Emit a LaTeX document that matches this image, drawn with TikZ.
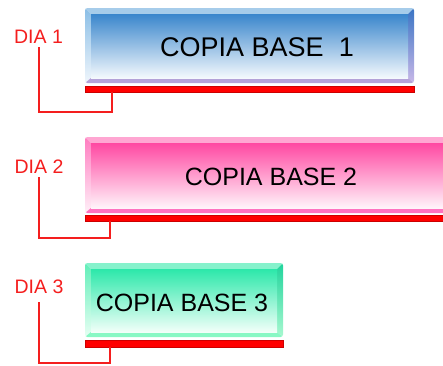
\documentclass[tikz,border=0pt]{standalone}
\usepackage{fontspec}
\setmainfont{Liberation Sans}
\begin{document}
% colour sets for the three bevelled boxes
\definecolor{aFaceT}{HTML}{3A86CC}\definecolor{aFaceB}{HTML}{F4F9FD}
\definecolor{aTop}{HTML}{A6CCEA}
\definecolor{aLeftT}{HTML}{8ABEE6}\definecolor{aLeftB}{HTML}{F0F6FC}
\definecolor{aRightT}{HTML}{3A74C4}\definecolor{aRightB}{HTML}{C8B8E8}
\definecolor{aBot}{HTML}{B4A2D8}
\definecolor{bFaceT}{HTML}{FF48A2}\definecolor{bFaceB}{HTML}{FFF4FA}
\definecolor{bTop}{HTML}{FFA6D2}
\definecolor{bLeftT}{HTML}{FF7CC0}\definecolor{bLeftB}{HTML}{FFF0F8}
\definecolor{bRightT}{HTML}{FF3C98}\definecolor{bRightB}{HTML}{FF9ACC}
\definecolor{bBot}{HTML}{FF72C0}
\definecolor{cFaceT}{HTML}{2CE8AA}\definecolor{cFaceB}{HTML}{F2FFF9}
\definecolor{cTop}{HTML}{86F2CC}
\definecolor{cLeftT}{HTML}{60EEB8}\definecolor{cLeftB}{HTML}{E8FFF4}
\definecolor{cRightT}{HTML}{20D49C}\definecolor{cRightB}{HTML}{A8F8D0}
\definecolor{cBot}{HTML}{88F8C4}
\definecolor{barred}{HTML}{FF0000}
\definecolor{labred}{HTML}{F41E1E}
% bevelled box: #1 x1, #2 y1 (top), #3 x2, #4 y2 (bottom), #5 colour prefix
\newcommand\bevbox[5]{%
  \begin{scope}
    \clip[rounded corners=2.5pt] (#1,#2) rectangle (#3,#4);
    \fill[#5Top] (#1,#2) -- (#3,#2) -- (#3-6,#2-6) -- (#1+6,#2-6) -- cycle;
    \shade[top color=#5LeftT, bottom color=#5LeftB]
      (#1,#2) -- (#1+6,#2-6) -- (#1+6,#4+5) -- (#1,#4) -- cycle;
    \shade[top color=#5RightT, bottom color=#5RightB]
      (#3,#2) -- (#3-6,#2-6) -- (#3-6,#4+5) -- (#3,#4) -- cycle;
    \fill[#5Bot] (#1,#4) -- (#1+6,#4+5) -- (#3-6,#4+5) -- (#3,#4) -- cycle;
    \shade[top color=#5FaceT, bottom color=#5FaceB]
      (#1+6,#2-6) rectangle (#3-6,#4+5);
  \end{scope}}
\begin{tikzpicture}[x=1pt, y=1pt,
  redbar/.style={fill=barred, draw=barred!80!black, line width=0.3pt,
    inner sep=0pt, minimum height=6pt, anchor=north west},
  boxtext/.style={inner sep=0pt, anchor=base, text=black},
  daylabel/.style={inner sep=0pt, anchor=base, text=labred,
    font=\fontsize{19.5}{20}\selectfont},
  bracket/.style={draw=labred, line width=2pt}]
  \useasboundingbox (0,0) rectangle (443,-365);
  \clip (0,0) rectangle (443,-365);

  % three bevelled copy boxes
  \bevbox{85}{-8}{414}{-83}{a}
  \bevbox{85}{-137}{470}{-213}{b}
  \bevbox{85}{-263}{283}{-337}{c}

  \node[boxtext, font=\fontsize{27}{28}\selectfont] (t1) at (257,-56) {COPIA BASE\ \ 1};
  \node[boxtext, font=\fontsize{25}{26}\selectfont] (t2) at (271,-185) {COPIA BASE 2};
  \node[boxtext, font=\fontsize{25}{26}\selectfont] (t3) at (182,-311) {COPIA BASE 3};

  % red base bars
  \node[redbar, minimum width=329pt] (bar1) at (85,-86) {};
  \node[redbar, minimum width=385pt] (bar2) at (85,-215) {};
  \node[redbar, minimum width=198pt, minimum height=7pt] (bar3) at (85,-340) {};

  % day labels
  \node[daylabel] (dia1) at (38.5,-43) {DIA 1};
  \node[daylabel] (dia2) at (39,-173) {DIA 2};
  \node[daylabel] (dia3) at (39,-293) {DIA 3};

  % bracket corners
  \coordinate (k1) at (112,-112);
  \coordinate (k2) at (110,-238);
  \coordinate (k3) at (110,-363);

  % brackets from each label to its bar
  \draw[bracket] ([yshift=-4pt]dia1.south) |- (k1) -- (k1 |- bar1.south);
  \draw[bracket] ([yshift=-4pt]dia2.south) |- (k2) -- (k2 |- bar2.south);
  \draw[bracket] ([yshift=-9pt]dia3.south) |- (k3) -- (k3 |- bar3.south);
\end{tikzpicture}
\end{document}
